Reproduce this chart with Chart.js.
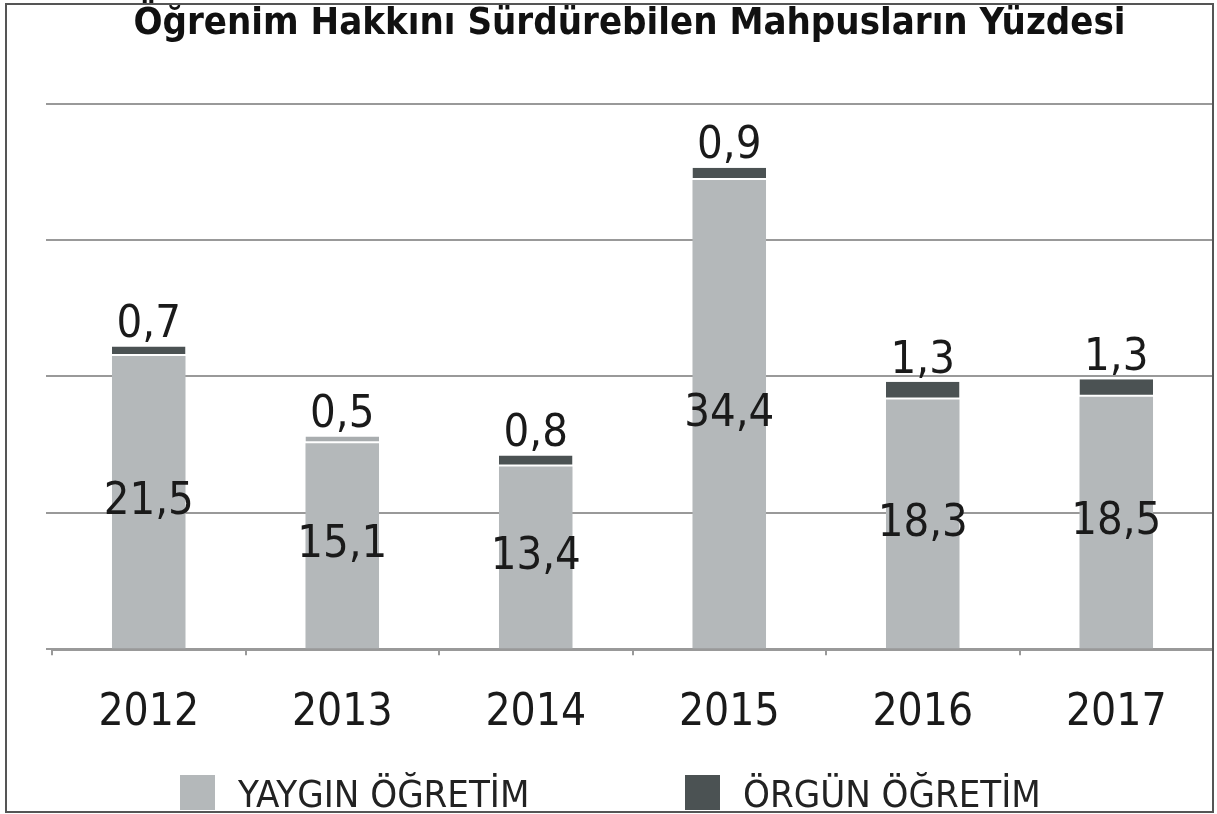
<!DOCTYPE html>
<html>
<head>
<meta charset="utf-8">
<script src="https://cdn.jsdelivr.net/npm/chart.js@4/dist/chart.umd.min.js"></script>
<style>
	body { margin:0; background:#fff; }
	#wrap { position:relative; width:1217px; height:814px; }
	#frame { position:absolute; left:5px; top:3px; width:1205px; height:806px; border:2px solid #555; pointer-events:none; }
</style>
</head>
<body>
<div id="wrap"><canvas id="c" width="1217" height="814"></canvas><div id="frame"></div></div>
<script>
const years = ['2012', '2013', '2014', '2015', '2016', '2017']
const yaygin = [21.5, 15.1, 13.4, 34.4, 18.3, 18.5]
const orgun = [0.7, 0.5, 0.8, 0.9, 1.3, 1.3]
const seriesNames = ['YAYGIN ÖĞRETİM', 'ÖRGÜN ÖĞRETİM']
const yTicks = [0, 10, 20, 30, 40]

const fnt = '"DejaVu Sans Condensed", "DejaVu Sans"'
const lightGrey = '#b4b8ba'
const darkGrey = '#4b5253'

// values on the bars, comma as decimal mark
const valueLabels = {
	id: 'valueLabels',
	afterDatasetsDraw(chart) {
		const ctx = chart.ctx
		ctx.save()
		ctx.font = '45px ' + fnt
		ctx.fillStyle = '#1a1a1a'
		ctx.textAlign = 'center'
		ctx.textBaseline = 'middle'
		chart.getDatasetMeta(0).data.forEach((b, i) => {
			ctx.fillText(String(yaygin[i]).replace('.', ','), b.x, (b.y + b.base) / 2)
		})
		chart.getDatasetMeta(1).data.forEach((b, i) => {
			ctx.fillText(String(orgun[i]).replace('.', ','), b.x, b.y - 21)
		})
		ctx.restore()
	}
}

// bottom legend, wide gap between the two items
const wideLegend = {
	id: 'wideLegend',
	afterDraw(chart) {
		const ctx = chart.ctx
		const xs = [180, 685]
		ctx.save()
		ctx.font = '38px ' + fnt
		ctx.textBaseline = 'alphabetic'
		chart.data.datasets.forEach((d, i) => {
			ctx.fillStyle = i ? darkGrey : lightGrey
			ctx.fillRect(xs[i], 775, 35, 35)
			ctx.fillStyle = '#222'
			ctx.fillText(d.label, xs[i] + 58, 807)
		})
		ctx.restore()
	}
}

addEventListener('load', () => {
	new Chart(document.getElementById('c'), {
		type: 'bar',
		data: {
			labels: years,
			datasets: [{
				label: seriesNames[0],
				data: yaygin,
				backgroundColor: lightGrey,
				barPercentage: 0.38,
				categoryPercentage: 1
			},
			{
				label: seriesNames[1],
				data: orgun,
				backgroundColor: [darkGrey, '#a9adaf', darkGrey, darkGrey, darkGrey, darkGrey],
				borderColor: '#fff',
				borderWidth: {top:0, left:0, right:0, bottom:2},
				borderSkipped: false,
				barPercentage: 0.38,
				categoryPercentage: 1
			}]
		},
		options: {
			responsive: false,
			animation: false,
			layout: { padding: {left: 46, right: 4, top: 0, bottom: 42} },
			plugins: {
				title: {
					display: true,
					text: 'Öğrenim Hakkını Sürdürebilen Mahpusların Yüzdesi',
					color: '#111',
					font: { family: fnt, size: 38, weight: 'bold' },
					padding: { top: 1, bottom: 57 }
				},
				legend: { display: false },
				tooltip: { enabled: false }
			},
			scales: {
				x: {
					stacked: true,
					border: { color: '#999', width: 3 },
					grid: { offset: true, drawOnChartArea: false, drawTicks: true, tickLength: 6, color: '#999', lineWidth: 2 },
					ticks: { color: '#1a1a1a', padding: 32, font: { family: fnt, size: 44 } }
				},
				y: {
					stacked: true,
					min: 0,
					max: 40,
					afterBuildTicks: s => { s.ticks = yTicks.map(v => ({value: v})) },
					border: { display: false },
					grid: { color: '#999', lineWidth: 2, drawTicks: true, tickLength: 6 },
					ticks: { display: false }
				}
			}
		},
		plugins: [valueLabels, wideLegend]
	})
})
</script>
</body>
</html>
